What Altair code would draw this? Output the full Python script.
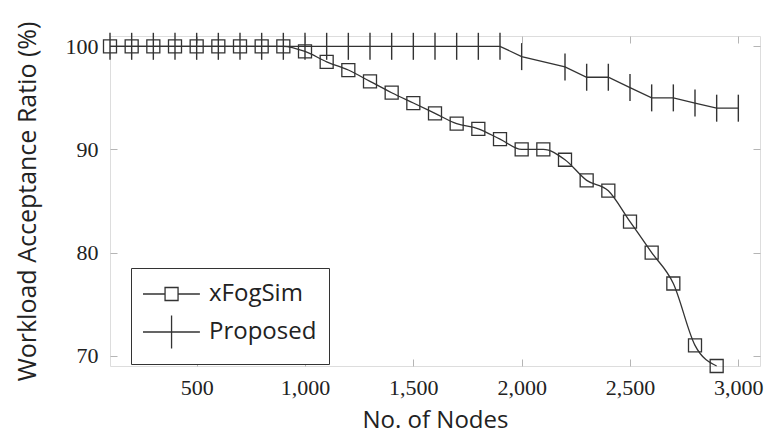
import altair as alt
import pandas as pd

# ---- data ----
nodes_xfog = [100, 200, 300, 400, 500, 600, 700, 800, 900, 1000, 1100, 1200, 1300, 1400,
              1500, 1600, 1700, 1800, 1900, 2000, 2100, 2200, 2300, 2400, 2500, 2600,
              2700, 2800, 2900]
ratio_xfog = [100, 100, 100, 100, 100, 100, 100, 100, 100, 99.5, 98.5, 97.7, 96.6, 95.5,
              94.5, 93.5, 92.5, 92.0, 91.0, 90.0, 90.0, 89.0, 87.0, 86.0, 83.0, 80.0,
              77.0, 71.0, 69.0]

nodes_prop = [100, 200, 300, 400, 500, 600, 700, 800, 900, 1000, 1100, 1200, 1300, 1400,
              1500, 1600, 1700, 1800, 1900, 2000, 2200, 2300, 2400, 2500, 2600, 2700,
              2800, 2900, 3000]
ratio_prop = [100, 100, 100, 100, 100, 100, 100, 100, 100, 100, 100, 100, 100, 100,
              100, 100, 100, 100, 100, 99.0, 98.0, 97.0, 97.0, 96.0, 95.0, 95.0,
              94.5, 94.0, 94.0]

series_names = ["xFogSim", "Proposed"]
x_ticks = [500, 1000, 1500, 2000, 2500, 3000]
y_ticks = [70, 80, 90, 100]

df_x = pd.DataFrame({"nodes": nodes_xfog, "ratio": ratio_xfog, "series": series_names[0]})
df_p = pd.DataFrame({"nodes": nodes_prop, "ratio": ratio_prop, "series": series_names[1]})
df_all = pd.concat([df_x, df_p], ignore_index=True)

INK = "#333333"
TICK = "#b5b5b5"
SERIF = "Liberation Serif, DejaVu Serif, serif"
SANS = "Open Sans"

xdom = [100, 3100]
ydom = [69, 101]

def xs(axis=None):
    return alt.X("nodes:Q", scale=alt.Scale(domain=xdom, nice=False, zero=False), axis=axis)

def ys(axis=None):
    return alt.Y("ratio:Q", scale=alt.Scale(domain=ydom, nice=False, zero=False), axis=axis)

bottom_axis = alt.Axis(
    orient="bottom", values=x_ticks, format=",d", offset=-7, tickSize=7, domain=False,
    grid=False, tickColor=TICK, tickWidth=1, labelFont=SERIF, labelFontSize=22,
    labelFontWeight="normal", labelColor="#222", labelPadding=11, title="No. of Nodes",
    titleFont=SANS, titleFontSize=24, titleFontWeight="normal", titleColor="#222",
    titlePadding=10,
)
left_axis = alt.Axis(
    orient="left", values=y_ticks, offset=-7, tickSize=7, domain=False, grid=False,
    tickColor=TICK, tickWidth=1, labelFont=SERIF, labelFontSize=22,
    labelFontWeight="normal", labelColor="#222", labelPadding=12,
    title="Workload Acceptance Ratio (%)", titleFont=SANS, titleFontSize=25,
    titleFontWeight="normal", titleColor="#222", titlePadding=25,
)
top_axis = alt.Axis(orient="top", values=x_ticks, offset=-7, tickSize=7, domain=False,
                    grid=False, tickColor=TICK, labels=False, title=None)
right_axis = alt.Axis(orient="right", values=y_ticks, offset=-7, tickSize=7, domain=False,
                      grid=False, tickColor=TICK, labels=False, title=None)

base_x = alt.Chart(df_x)
base_p = alt.Chart(df_p)

line_x = base_x.mark_line(color=INK, strokeWidth=1.3, interpolate="monotone").encode(
    x=xs(bottom_axis), y=ys(left_axis))
line_p = base_p.mark_line(color=INK, strokeWidth=1.3).encode(
    x=xs(top_axis), y=ys(right_axis))
ticks_p = base_p.mark_point(shape="M0,-1L0,1", size=729, color=INK, strokeWidth=1.4,
                            filled=False, opacity=1).encode(x=xs(), y=ys())
squares_x = base_x.mark_point(shape="square", size=169, color=INK, strokeWidth=1.3,
                              filled=False, opacity=1).encode(x=xs(), y=ys())

# legend glyphs (unit = 13 px), shifted right inside their slot
leg_x = "M-1.08,0L0.62,0M1.62,0L3.3,0M0.62,-0.5L1.62,-0.5L1.62,0.5L0.62,0.5Z"
leg_p = "M-1.08,0L3.3,0M1.12,-1.27L1.12,1.27"

legend_layer = alt.Chart(df_all).mark_point(size=676, opacity=0, filled=False).encode(
    x=xs(), y=ys(),
    shape=alt.Shape("series:N",
                    scale=alt.Scale(domain=series_names, range=[leg_x, leg_p]),
                    legend=alt.Legend(
                        title=None, orient="none", legendX=21, legendY=232,
                        padding=12, strokeColor=INK, fillColor="white",
                        symbolStrokeColor=INK, symbolFillColor="transparent",
                        symbolStrokeWidth=1.3, symbolOpacity=1, symbolSize=676,
                        labelOffset=38, rowPadding=6,
                        labelFont=SANS, labelFontSize=24, labelColor="#222",
                    )),
)

chart = alt.layer(line_x, line_p, ticks_p, squares_x, legend_layer).resolve_scale(
    x="independent", y="independent"
).properties(
    width=650, height=330,
    autosize=alt.AutoSizeParams(type="none"),
    padding={"left": 102, "top": 28, "right": 4, "bottom": 67},
).configure_view(stroke=INK, strokeWidth=1.5).configure_axis(
    labelFont=SERIF, labelFontWeight="normal"
).configure(background="white")

chart.save("out.html", embed_options={"renderer": "svg", "actions": False})
